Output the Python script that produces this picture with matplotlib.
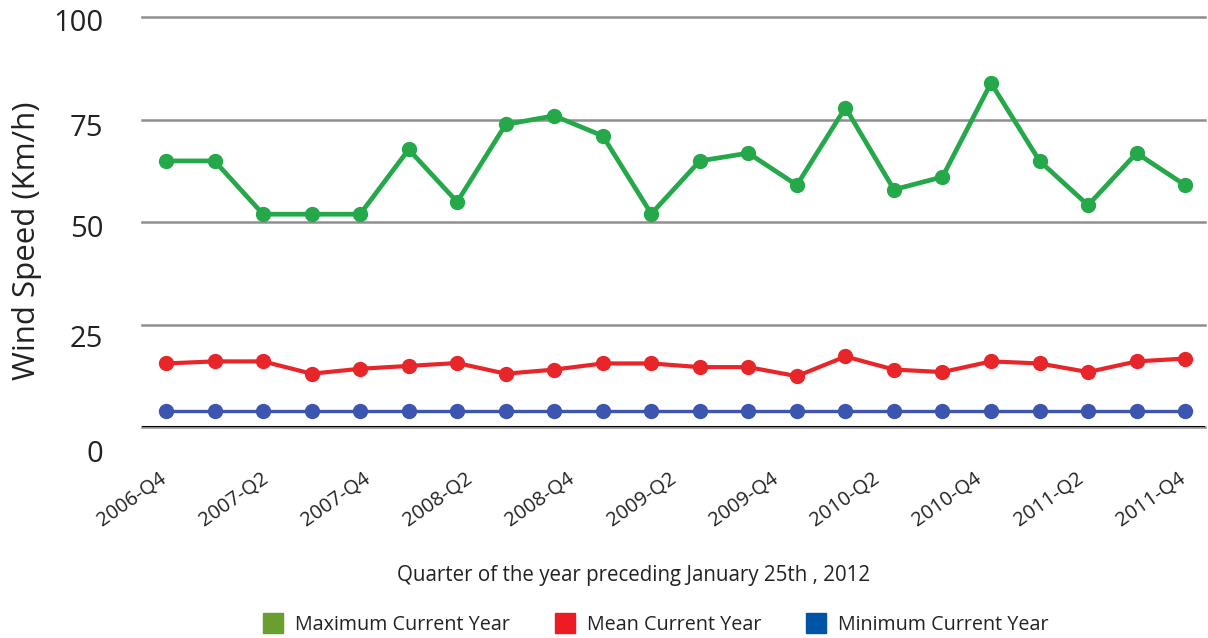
import matplotlib
matplotlib.use('Agg')
import matplotlib.pyplot as plt
import matplotlib.transforms as mtransforms
from matplotlib.lines import Line2D
import numpy as np

# 数据
quarter_labels = ['2006-Q4', '2007-Q2', '2007-Q4', '2008-Q2', '2008-Q4', '2009-Q2',
                  '2009-Q4', '2010-Q2', '2010-Q4', '2011-Q2', '2011-Q4']
max_speed = [64.9, 64.9, 51.9, 51.9, 51.9, 67.7, 54.9, 73.8, 75.9, 71.0, 52.0,
             64.9, 66.8, 59.0, 77.9, 57.9, 61.0, 83.9, 64.9, 54.1, 66.8, 59.0]
mean_speed = [15.5, 16.0, 16.0, 13.0, 14.2, 14.9, 15.6, 13.0, 14.0, 15.5, 15.5,
              14.6, 14.6, 12.4, 17.2, 14.0, 13.4, 16.0, 15.5, 13.4, 16.0, 16.7]
min_speed = [3.8] * 22
y_ticks = [0, 25, 50, 75, 100]

font = ['Open Sans', 'DejaVu Sans']
plt.rcParams['font.family'] = font

fig = plt.figure(figsize=(12.08, 6.38), dpi=100)
ax = fig.add_axes([142 / 1208, 1 - 427 / 638, 1063 / 1208, 410 / 638])

x = np.arange(len(max_speed))
ax.plot(x, max_speed, color='#25a84a', lw=3.4, marker='o', ms=10, zorder=3)
ax.plot(x, mean_speed, color='#e8262a', lw=3.0, marker='o', ms=10, zorder=3)
ax.plot(x, min_speed, color='#3b55b0', lw=2.4, marker='o', ms=10, zorder=3)

ax.set_ylim(0, 100)
ax.set_xlim(-0.495, len(max_speed) - 1 + 0.41)
ax.set_yticks(y_ticks)
ax.yaxis.grid(True, color='#8f8f8f', lw=1.8)
for gl in ax.get_ygridlines():
    gl.set_clip_on(False)
ax.set_axisbelow(True)
for s in ['top', 'right', 'left', 'bottom']:
    ax.spines[s].set_visible(False)
ax.axhline(0, color='black', lw=2.2, zorder=2)
ax.tick_params(axis='y', length=0, pad=28, labelsize=21, labelcolor='#222222')
ax.tick_params(axis='x', length=0, pad=30, labelsize=14.5, labelcolor='#222222')

# 刻度标签位置略有下移(与原图一致)
y_offsets = [-17, -8, -3, -4, -2]
for t, dy in zip(ax.get_yticklabels(), y_offsets):
    t.set_transform(t.get_transform() + mtransforms.ScaledTranslation(0, dy / 72, fig.dpi_scale_trans))

ax.set_xticks(np.linspace(0, len(max_speed) - 1, len(quarter_labels)))
ax.set_xticklabels(quarter_labels, rotation=35, ha='right', rotation_mode='anchor')
for t in ax.get_xticklabels():
    t.set_transform(t.get_transform() + mtransforms.ScaledTranslation(-0.07, 0, fig.dpi_scale_trans))

ax.set_ylabel('Wind Speed (Km/h)', fontsize=22.5, color='#222222')
ax.yaxis.set_label_coords(-0.094, 0.455)
fig.text(634 / 1208, 1 - 575 / 638, 'Quarter of the year preceding January 25th , 2012',
         ha='center', va='center', fontsize=14.8, color='#222222')

handles = [Line2D([], [], ls='none', marker='s', ms=15, color=c)
           for c in ['#6a9e2f', '#ed1c24', '#0054a6']]
fig.legend(handles, ['Maximum Current Year', 'Mean Current Year', 'Minimum Current Year'],
           loc='center', bbox_to_anchor=(656 / 1208, 1 - 625 / 638), ncol=3, frameon=False,
           prop={'size': 14.2}, handletextpad=0.6, columnspacing=2.3,
           handlelength=1.0, labelcolor='#222222')

fig.savefig('out.png', dpi=100)
